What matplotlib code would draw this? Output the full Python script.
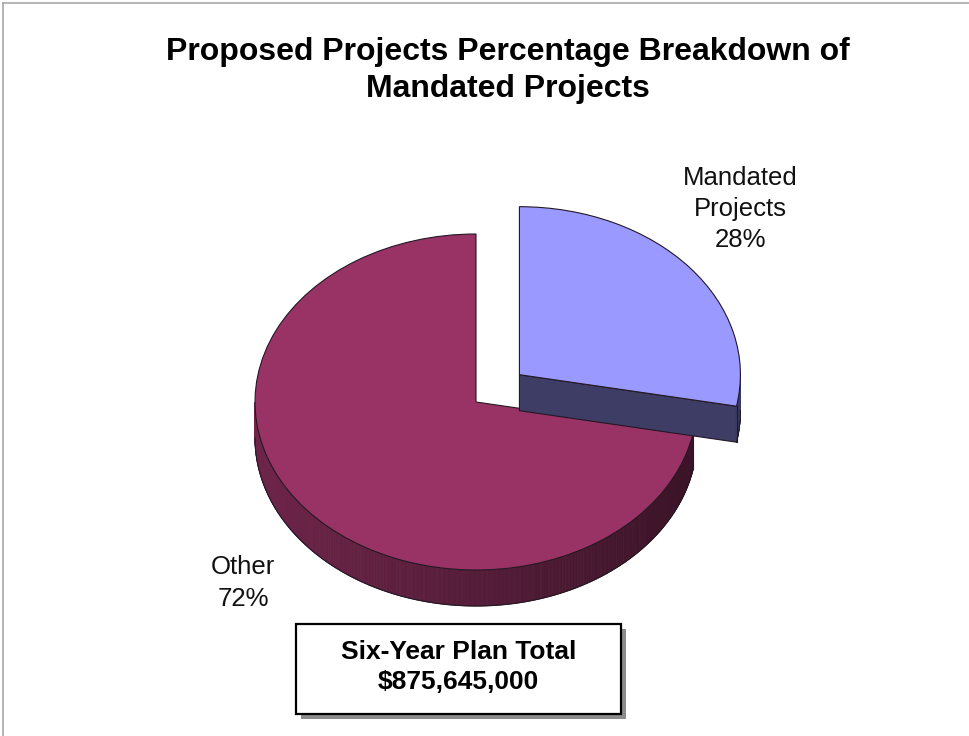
import matplotlib.pyplot as plt
import numpy as np
from matplotlib.patches import Rectangle
from matplotlib.lines import Line2D

plt.rcParams["font.family"] = ["Liberation Sans", "DejaVu Sans"]

# chart data
labels = ["Mandated\nProjects", "Other"]
values = [28, 72]
top_colors = ["#9999FF", "#993366"]
explode = [0.255, 0]
title_lines = ["Proposed Projects Percentage Breakdown of", "Mandated Projects"]
total_text = "Six-Year Plan Total\n$875,645,000"

W, H = 969, 736
fig = plt.figure(figsize=(W / 100, H / 100), dpi=100)
ax = fig.add_axes([0, 0, 1, 1])

# pixel layout of the ellipse: x radius 221px, y radius 168px, centre at (476, 402)
rx, ry, cx, cy = 221.0, 168.0, 476.0, 402.0
depth = 36.0 / ry
edge = "#231823"

wedges, _ = ax.pie(values, colors=top_colors, startangle=90, counterclock=False,
                   explode=explode, wedgeprops=dict(edgecolor=edge, linewidth=0.8))


def shade(color, f):
    rgb = np.array(plt.matplotlib.colors.to_rgb(color))
    return tuple(rgb * f)


def draw_sides(w, color, z):
    x0, y0 = w.center
    r = w.r
    t1, t2 = w.theta1, w.theta2
    # radial faces that look toward the viewer
    for a, vis in ((t1, np.cos(np.radians(t1)) > 1e-6), (t2, np.cos(np.radians(t2)) < -1e-6)):
        if not vis:
            continue
        px = x0 + r * np.cos(np.radians(a))
        py = y0 + r * np.sin(np.radians(a))
        ax.fill([x0, px, px, x0], [y0, py, py - depth, y0 - depth],
                color=shade(color, 0.4), ec=edge, lw=0.8, zorder=z)
    # outer wall, darker toward the right
    t = np.linspace(t1, t2, 600)
    t = t[np.sin(np.radians(t)) <= 1e-9]
    if len(t) < 2:
        return
    xs = x0 + r * np.cos(np.radians(t))
    ys = y0 + r * np.sin(np.radians(t))
    for i in range(len(t) - 1):
        f = 0.55 - 0.17 * np.cos(np.radians(t[i]))
        c = shade(color, f)
        ax.fill([xs[i], xs[i + 1], xs[i + 1], xs[i]],
                [ys[i], ys[i + 1], ys[i + 1] - depth, ys[i] - depth],
                color=c, ec=c, lw=0.6, zorder=z)
    ax.plot(xs, ys - depth, color=edge, lw=0.8, zorder=z + 0.1)
    for k in (0, -1):
        if abs(np.cos(np.radians(t[k]))) < 0.999:
            ax.plot([xs[k], xs[k]], [ys[k], ys[k] - depth], color=edge, lw=0.8, zorder=z + 0.1)


order = np.argsort(explode)
for rank, i in enumerate(order):
    z = 1 + 2 * rank
    draw_sides(wedges[i], top_colors[i], z)
    wedges[i].set_zorder(z + 1)

ax.set_aspect("auto")
ax.set_xlim(-cx / rx, (W - cx) / rx)
ax.set_ylim(-(H - cy) / ry, cy / ry)
ax.axis("off")

# slice labels
label_pos = [((740 - cx) / rx, (cy - 209) / ry), ((243 - cx) / rx, (cy - 583) / ry)]
for lab, v, (lx, ly) in zip(labels, values, label_pos):
    ax.text(lx, ly, f"{lab}\n{v}%", ha="center", va="center", fontsize=18.5,
            linespacing=1.38, color="#111111", zorder=10)

for line, base in zip(title_lines, [60, 97]):
    fig.text(508 / W, 1 - base / H, line, ha="center", va="baseline", fontsize=23,
             fontweight="bold")

# total box with shadow
bx0, bx1, by0, by1 = 296, 621, 624, 714
fig.patches.append(Rectangle(((bx0 + 5) / W, 1 - (by1 + 5) / H), (bx1 - bx0) / W, (by1 - by0) / H,
                             transform=fig.transFigure, facecolor="#8c8c8c", edgecolor="none"))
fig.patches.append(Rectangle((bx0 / W, 1 - by1 / H), (bx1 - bx0) / W, (by1 - by0) / H,
                             transform=fig.transFigure, facecolor="white", edgecolor="black",
                             linewidth=1.6))
fig.text((bx0 + bx1) / 2 / W, 1 - 667 / H, total_text, ha="center", va="center",
         fontsize=19, fontweight="bold", linespacing=1.3)

# thin frame on top and left
fig.lines.append(Line2D([2.5 / W, 2.5 / W], [0, 1 - 2.5 / H], transform=fig.transFigure,
                        color="#a8a8a8", lw=1.2))
fig.lines.append(Line2D([2.5 / W, 1], [1 - 2.5 / H, 1 - 2.5 / H], transform=fig.transFigure,
                        color="#a8a8a8", lw=1.2))

fig.savefig("out.png", dpi=100)
